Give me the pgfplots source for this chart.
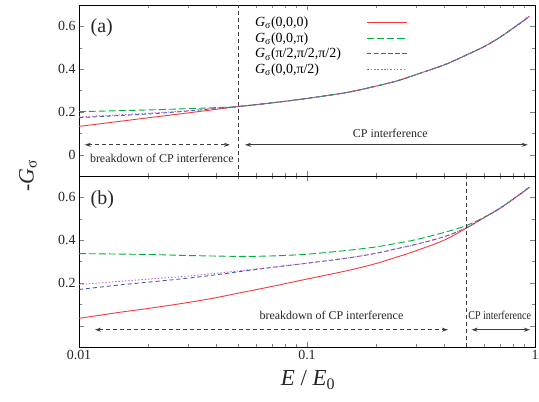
\documentclass[border=0pt]{standalone}
\usepackage{fontspec}
\setmainfont{Liberation Serif}
\usepackage{pgfplots}
\pgfplotsset{compat=1.18}
\usetikzlibrary{arrows.meta}

\definecolor{cred}{RGB}{240,60,60}
\definecolor{cgreen}{RGB}{0,175,60}
\definecolor{cblue}{RGB}{60,90,190}
\definecolor{cpink}{RGB}{200,90,190}
\definecolor{cgray}{RGB}{60,60,60}

\begin{document}
\begin{tikzpicture}

% (a)
\begin{axis}[xmode=log, scale only axis, width=456bp, height=171bp,
    xmin=0.01, xmax=1, ymin=-0.1, ymax=0.7,
    xtick={0.01,0.1,1}, xticklabels={},
    minor xtick={0.02,0.03,0.04,0.05,0.06,0.07,0.08,0.09,0.2,0.3,0.4,0.5,0.6,0.7,0.8,0.9},
    ytick={0,0.2,0.4,0.6}, yticklabels={\textrm{0},\textrm{0.2},\textrm{0.4},\textrm{0.6}},
    minor ytick={0.1,0.3,0.5},
    tick align=inside, major tick length=5bp, minor tick length=3bp,
    tick label style={font=\fontsize{14}{16}\selectfont, text=black!85},
    axis line style={line width=0.9bp},
    clip=false,
    at={(0,171bp)}, anchor=south west,
    legend style={draw=none, fill=none, at={(0.375,0.955)}, anchor=north west,
      font=\fontsize{14}{15}\selectfont, row sep=0.5bp, column sep=24bp},
    legend plot pos=right, legend cell align=left,
    legend image post style={xscale=2.3}]
\addplot[line width=0.9bp, cred, smooth] table {
0.01 0.132
0.02 0.172
0.03 0.195
0.04 0.212
0.05 0.225
0.07 0.242
0.1 0.263
0.15 0.291
0.2 0.320
0.25 0.346
0.3 0.374
0.4 0.420
0.5 0.466
0.6 0.506
0.7 0.548
0.8 0.591
0.9 0.630
0.944 0.648
};
\addlegendentry{\textit{G}\textsubscript{σ}(0,0,0)}
\addplot[line width=0.9bp, cgreen, smooth, dash pattern=on 7bp off 3bp] table {
0.01 0.201
0.02 0.209
0.03 0.215
0.04 0.220
0.05 0.225
0.07 0.242
0.1 0.263
0.15 0.291
0.2 0.320
0.25 0.346
0.3 0.374
0.4 0.420
0.5 0.466
0.6 0.506
0.7 0.548
0.8 0.591
0.9 0.630
0.944 0.648
};
\addlegendentry{\textit{G}\textsubscript{σ}(0,0,π)}
\addplot[line width=0.9bp, cblue, smooth, dash pattern=on 4bp off 3bp] table {
0.01 0.173
0.02 0.190
0.03 0.204
0.04 0.216
0.05 0.225
0.07 0.242
0.1 0.263
0.15 0.291
0.2 0.320
0.25 0.346
0.3 0.374
0.4 0.420
0.5 0.466
0.6 0.506
0.7 0.548
0.8 0.591
0.9 0.630
0.944 0.648
};
\addlegendentry{\textit{G}\textsubscript{σ}(π/2,π/2,π/2)}
\addplot[line width=0.9bp, cpink, smooth, dash pattern=on 1.3bp off 2bp] table {
0.01 0.177
0.02 0.193
0.03 0.206
0.04 0.217
0.05 0.225
0.07 0.242
0.1 0.263
0.15 0.291
0.2 0.320
0.25 0.346
0.3 0.374
0.4 0.420
0.5 0.466
0.6 0.506
0.7 0.548
0.8 0.591
0.9 0.630
0.944 0.648
};
\addlegendentry{\textit{G}\textsubscript{σ}(0,0,π/2)}

\draw[cgray, line width=0.8bp, dash pattern=on 4bp off 3bp] (axis cs:0.05,-0.1) -- (axis cs:0.05,0.7);
\draw[cgray, line width=0.9bp, dash pattern=on 4bp off 3bp, {Stealth[length=6bp,width=4bp]}-{Stealth[length=6bp,width=4bp]}]
  (axis cs:0.0106,0.046) -- (axis cs:0.0459,0.046);
\draw[cgray, line width=1bp, {Stealth[length=6bp,width=4bp]}-{Stealth[length=6bp,width=4bp]}]
  (axis cs:0.0535,0.046) -- (axis cs:0.93,0.046);
\node[font=\fontsize{12}{14}\selectfont, text=black!85] at (axis cs:0.0231,-0.019) {breakdown of CP interference};
\node[font=\fontsize{12}{14}\selectfont, text=black!85] at (axis cs:0.232,0.101) {CP interference};
\node[font=\fontsize{20}{22}\selectfont, anchor=west, text=black!85] at (rel axis cs:0.018,0.865) {(a)};
\end{axis}

% (b)
\begin{axis}[xmode=log, scale only axis, width=456bp, height=171bp,
    xmin=0.01, xmax=1, ymin=-0.1, ymax=0.7,
    xtick={0.01,0.1,1}, xticklabels={\textrm{0.01},\textrm{0.1},\textrm{1}},
    minor xtick={0.02,0.03,0.04,0.05,0.06,0.07,0.08,0.09,0.2,0.3,0.4,0.5,0.6,0.7,0.8,0.9},
    ytick={0,0.2,0.4,0.6}, yticklabels={,\textrm{0.2},\textrm{0.4},\textrm{0.6}},
    minor ytick={0.1,0.3,0.5},
    tick align=inside, major tick length=5bp, minor tick length=3bp,
    tick label style={font=\fontsize{14}{16}\selectfont, text=black!85},
    axis line style={line width=0.9bp},
    clip=false,
    at={(0,0)}, anchor=south west]
\addplot[line width=0.9bp, cred, smooth] table {
0.01 0.034
0.015 0.062
0.02 0.080
0.03 0.108
0.04 0.131
0.05 0.152
0.07 0.183
0.1 0.218
0.15 0.257
0.2 0.290
0.25 0.322
0.3 0.350
0.4 0.400
0.5 0.456
0.6 0.506
0.7 0.548
0.8 0.591
0.9 0.630
0.944 0.648
};
\addplot[line width=0.9bp, cgreen, smooth, dash pattern=on 7bp off 3bp] table {
0.01 0.337
0.02 0.333
0.03 0.328
0.05 0.324
0.07 0.326
0.1 0.334
0.15 0.352
0.2 0.368
0.25 0.386
0.3 0.402
0.4 0.436
0.5 0.468
0.6 0.508
0.7 0.548
0.8 0.591
0.9 0.630
0.944 0.648
};
\addplot[line width=0.9bp, cblue, smooth, dash pattern=on 4bp off 3bp] table {
0.01 0.169
0.015 0.190
0.02 0.203
0.03 0.222
0.04 0.238
0.05 0.252
0.07 0.272
0.1 0.292
0.15 0.316
0.2 0.338
0.25 0.361
0.3 0.380
0.4 0.416
0.5 0.458
0.6 0.506
0.7 0.548
0.8 0.591
0.9 0.630
0.944 0.648
};
\addplot[line width=0.9bp, cpink, smooth, dash pattern=on 1.3bp off 2bp] table {
0.01 0.192
0.015 0.207
0.02 0.217
0.03 0.232
0.04 0.245
0.05 0.256
0.07 0.273
0.1 0.292
0.15 0.316
0.2 0.338
0.25 0.361
0.3 0.380
0.4 0.416
0.5 0.458
0.6 0.506
0.7 0.548
0.8 0.591
0.9 0.630
0.944 0.648
};

\draw[cgray, line width=0.8bp, dash pattern=on 4bp off 3bp] (axis cs:0.5,-0.1) -- (axis cs:0.5,0.7);
\draw[cgray, line width=0.9bp, dash pattern=on 4bp off 3bp, {Stealth[length=6bp,width=4bp]}-{Stealth[length=6bp,width=4bp]}]
  (axis cs:0.01175,-0.019) -- (axis cs:0.415,-0.019);
\draw[cgray, line width=1bp, {Stealth[length=6bp,width=4bp]}-{Stealth[length=6bp,width=4bp]}]
  (axis cs:0.527,-0.019) -- (axis cs:0.95,-0.019);
\node[font=\fontsize{12}{14}\selectfont, text=black!85] at (axis cs:0.128,0.046) {breakdown of CP interference};
\node[font=\fontsize{12}{14}\selectfont, text=black!85] at (axis cs:0.70,0.046) {\scalebox{0.84}[1]{CP interference}};
\node[font=\fontsize{20}{22}\selectfont, anchor=west, text=black!85] at (rel axis cs:0.018,0.864) {(b)};
\end{axis}

\node[rotate=90, font=\fontsize{22}{24}\selectfont, text=black!85] at (-51bp,171bp) {-\textit{G}\textsubscript{σ}};
\node[font=\fontsize{23}{26}\selectfont, text=black!85] at (229bp,-33bp) {\textit{E} / \textit{E}\textsubscript{0}};

\pgfresetboundingbox
\useasboundingbox (-79bp,-55bp) rectangle (460bp,347bp);
\end{tikzpicture}
\end{document}
